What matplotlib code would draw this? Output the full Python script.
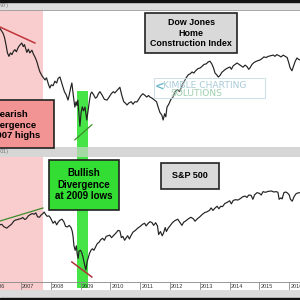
import matplotlib
matplotlib.use('Agg')
import matplotlib.pyplot as plt
from matplotlib.patches import Rectangle

# Dow Jones Home Construction Index (approx. levels)
hb_t = [2006.30, 2006.35, 2006.40, 2006.45, 2006.50, 2006.55, 2006.60, 2006.65, 2006.70, 2006.75,
        2006.80, 2006.85, 2006.90, 2006.95, 2007.03, 2007.08, 2007.12, 2007.17, 2007.20, 2007.25,
        2007.30, 2007.37, 2007.42, 2007.48, 2007.54, 2007.58, 2007.64, 2007.70, 2007.76, 2007.81,
        2007.86, 2007.92, 2007.97, 2008.02, 2008.08, 2008.14, 2008.20, 2008.25, 2008.31, 2008.36,
        2008.41, 2008.46, 2008.52, 2008.58, 2008.63, 2008.67, 2008.71, 2008.76, 2008.81, 2008.85,
        2008.88, 2008.91, 2008.95, 2008.98, 2009.02, 2009.06, 2009.10, 2009.15, 2009.18, 2009.21,
        2009.26, 2009.30, 2009.34, 2009.38, 2009.44, 2009.50, 2009.55, 2009.60, 2009.65, 2009.72,
        2009.80, 2009.89, 2009.96, 2010.03, 2010.10, 2010.15, 2010.22, 2010.28, 2010.32, 2010.38,
        2010.45, 2010.50, 2010.56, 2010.62, 2010.70, 2010.76, 2010.82, 2010.89, 2010.95, 2011.02,
        2011.09, 2011.15, 2011.22, 2011.28, 2011.33, 2011.40, 2011.48, 2011.55, 2011.60, 2011.66,
        2011.73, 2011.77, 2011.82, 2011.86, 2011.90, 2011.96, 2012.03, 2012.10, 2012.17, 2012.25,
        2012.32, 2012.38, 2012.44, 2012.50, 2012.56, 2012.62, 2012.68, 2012.74, 2012.80, 2012.86,
        2012.94, 2013.01, 2013.07, 2013.14, 2013.22, 2013.28, 2013.34, 2013.40, 2013.46, 2013.51,
        2013.56, 2013.62, 2013.68, 2013.74, 2013.80, 2013.86, 2013.94, 2014.01, 2014.06, 2014.12,
        2014.18, 2014.25, 2014.32, 2014.38, 2014.45, 2014.52, 2014.58, 2014.64, 2014.68, 2014.75,
        2014.82, 2014.90, 2014.96, 2015.02, 2015.08, 2015.15, 2015.22, 2015.30, 2015.38, 2015.46,
        2015.52, 2015.58, 2015.66, 2015.72, 2015.80, 2015.86, 2015.93, 2015.98, 2016.03, 2016.09,
        2016.14, 2016.20, 2016.26, 2016.31, 2016.36]
hb_v = [830, 800, 770, 720, 640, 560, 530, 560, 545, 575,
        590, 570, 605, 630, 657, 620, 640, 590, 565, 595,
        560, 585, 550, 520, 484, 450, 412, 390, 375, 362,
        375, 340, 318, 335, 330, 355, 345, 372, 380, 350,
        324, 300, 285, 262, 290, 320, 345, 280, 234, 255,
        240, 262, 205, 172, 215, 235, 220, 234, 210, 190,
        225, 260, 290, 298, 285, 270, 275, 290, 300, 285,
        265, 262, 275, 290, 300, 294, 305, 315, 322, 285,
        255, 250, 242, 250, 255, 245, 255, 254, 265, 280,
        290, 284, 275, 282, 275, 270, 262, 255, 235, 215,
        205, 190, 210, 200, 234, 245, 265, 275, 300, 310,
        300, 320, 345, 360, 380, 395, 400, 412, 405, 420,
        435, 439, 450, 465, 470, 484, 490, 470, 440, 405,
        395, 380, 390, 410, 420, 430, 440, 446, 430, 455,
        465, 476, 465, 455, 445, 460, 450, 430, 439, 465,
        480, 490, 495, 500, 510, 525, 520, 530, 535, 541,
        530, 545, 535, 525, 540, 530, 520, 480, 440, 420,
        450, 490, 516, 505, 500]

# S&P 500
sp_t = [2006.30, 2006.36, 2006.42, 2006.48, 2006.53, 2006.58, 2006.64, 2006.70, 2006.76, 2006.82,
        2006.88, 2006.94, 2007.00, 2007.06, 2007.13, 2007.18, 2007.25, 2007.32, 2007.38, 2007.44,
        2007.50, 2007.56, 2007.62, 2007.68, 2007.74, 2007.78, 2007.83, 2007.88, 2007.94, 2007.99,
        2008.04, 2008.08, 2008.14, 2008.20, 2008.25, 2008.31, 2008.38, 2008.44, 2008.50, 2008.56,
        2008.62, 2008.68, 2008.72, 2008.75, 2008.78, 2008.82, 2008.86, 2008.89, 2008.92, 2008.95,
        2009.00, 2009.04, 2009.08, 2009.13, 2009.18, 2009.22, 2009.26, 2009.30, 2009.35, 2009.40,
        2009.45, 2009.50, 2009.56, 2009.62, 2009.68, 2009.74, 2009.80, 2009.86, 2009.92, 2009.98,
        2010.04, 2010.10, 2010.18, 2010.26, 2010.32, 2010.37, 2010.42, 2010.48, 2010.52, 2010.58,
        2010.64, 2010.70, 2010.76, 2010.84, 2010.92, 2011.00, 2011.08, 2011.15, 2011.20, 2011.27,
        2011.33, 2011.40, 2011.45, 2011.52, 2011.58, 2011.62, 2011.68, 2011.74, 2011.78, 2011.84,
        2011.88, 2011.94, 2012.00, 2012.08, 2012.16, 2012.26, 2012.34, 2012.40, 2012.46, 2012.54,
        2012.62, 2012.70, 2012.78, 2012.84, 2012.92, 2013.00, 2013.08, 2013.16, 2013.24, 2013.32,
        2013.38, 2013.44, 2013.50, 2013.58, 2013.64, 2013.70, 2013.76, 2013.84, 2013.92, 2014.00,
        2014.06, 2014.12, 2014.20, 2014.28, 2014.36, 2014.44, 2014.52, 2014.58, 2014.64, 2014.72,
        2014.78, 2014.84, 2014.92, 2015.00, 2015.06, 2015.12, 2015.20, 2015.30, 2015.40, 2015.48,
        2015.56, 2015.62, 2015.66, 2015.72, 2015.76, 2015.82, 2015.88, 2015.94, 2016.00, 2016.04,
        2016.10, 2016.16, 2016.22, 2016.28, 2016.36]
sp_v = [1300, 1310, 1270, 1250, 1240, 1265, 1290, 1320, 1370, 1395,
        1400, 1415, 1420, 1445, 1405, 1420, 1480, 1510, 1530, 1515,
        1545, 1460, 1450, 1500, 1530, 1565, 1510, 1470, 1480, 1440,
        1380, 1330, 1370, 1300, 1350, 1390, 1410, 1360, 1270, 1260,
        1290, 1250, 1190, 1100, 960, 900, 960, 850, 800, 890,
        900, 870, 820, 740, 677, 760, 810, 860, 900, 920,
        900, 940, 990, 1010, 1050, 1070, 1040, 1100, 1110, 1120,
        1080, 1110, 1150, 1200, 1190, 1080, 1100, 1040, 1070, 1110,
        1060, 1120, 1170, 1200, 1240, 1270, 1310, 1330, 1280, 1330,
        1360, 1340, 1290, 1340, 1280, 1130, 1180, 1110, 1150, 1250,
        1180, 1240, 1280, 1340, 1380, 1410, 1340, 1290, 1350, 1380,
        1420, 1450, 1420, 1370, 1420, 1460, 1510, 1550, 1570, 1600,
        1660, 1600, 1650, 1700, 1640, 1700, 1690, 1770, 1800, 1840,
        1760, 1850, 1870, 1860, 1900, 1950, 1970, 1930, 2000, 1990,
        1880, 2010, 2070, 2050, 2000, 2100, 2080, 2110, 2120, 2090,
        2100, 2080, 1880, 1920, 1890, 2070, 2090, 2060, 2000, 1880,
        1830, 1950, 2030, 2060, 2070]

# divergence trendlines
hb_red_t = [2006.30, 2007.47]
hb_red_v = [850, 657]
hb_green_t = [2008.81, 2009.38]
hb_green_v = [138, 176]
sp_green_t = [2006.30, 2007.74]
sp_green_v = [1374, 1658]
sp_red_t = [2008.71, 2009.38]
sp_red_v = [760, 612]

years = list(range(2006, 2017))
bear_span = (2006.30, 2007.74)
bull_span = (2008.88, 2009.25)
x_range = (2006.30, 2016.36)

W = 300.0
def fx(px):
    return px / W
def fy(py):
    return 1 - py / W

fig = plt.figure(figsize=(3, 3), dpi=100, facecolor='#dcdcdc')
fig.patches.append(Rectangle((0, fy(1.5)), 1, 1.5 / W, transform=fig.transFigure, color='#111', zorder=0))
fig.patches.append(Rectangle((0, 0), 1, 2 / W, transform=fig.transFigure, color='#111', zorder=0))

pink = '#f9cdcd'
green = '#46e446'

ax1 = fig.add_axes([0, fy(147), 1, 137 / W])
band = fig.add_axes([0, fy(157), 1, 10 / W], sharex=ax1)
ax2 = fig.add_axes([0, fy(282), 1, 125 / W], sharex=ax1)
dax = fig.add_axes([0, fy(290), 1, 8 / W], sharex=ax1)

for a in (ax1, band, ax2, dax):
    a.set_xlim(*x_range)
    for s in a.spines.values():
        s.set_visible(False)

ax1.set_yscale('log')
ax1.set_ylim(123, 1118)
ax1.axvspan(*bear_span, color=pink, lw=0)
ax1.axvspan(*bull_span, ymin=0, ymax=0.41, color=green, lw=0)
ax1.plot(hb_t, hb_v, color='#222', lw=0.85)
ax1.plot(hb_red_t, hb_red_v, color='#c0343a', lw=1.1)
ax1.plot(hb_green_t, hb_green_v, color='#3c8c2c', lw=0.9)
ax1.spines['top'].set_visible(True)
ax1.spines['top'].set_color('#999')
ax1.spines['top'].set_linewidth(0.6)

band.set_facecolor('#d6d6d6')
band.axvspan(*bull_span, color=green, alpha=0.35, lw=0)
band.set_ylim(0, 1)

ax2.set_yscale('log')
ax2.set_ylim(569, 3465)
ax2.axvspan(*bear_span, color=pink, lw=0)
ax2.axvspan(*bull_span, color=green, lw=0)
ax2.plot(sp_t, sp_v, color='#222', lw=0.85)
ax2.plot(sp_green_t, sp_green_v, color='#3c8c2c', lw=0.9)
ax2.plot(sp_red_t, sp_red_v, color='#b0303a', lw=1.1)

dax.set_ylim(0, 1)
dax.set_facecolor('white')
dax.axvspan(*bear_span, color=pink, lw=0)
dax.axvspan(*bull_span, ymin=0.25, color=green, lw=0)
for y in years:
    dax.axvline(y, color='#888', lw=0.6)
    dax.text(y + 0.04, 0.45, str(y), fontsize=4, color='#333', va='center', ha='left',
             family='Liberation Sans')
dax.axhline(0.02, color='#888', lw=0.6)
dax.axhline(0.98, color='#888', lw=0.6)

for a in (ax1, band, ax2, dax):
    a.minorticks_off()
    a.tick_params(which='both', left=False, bottom=False, labelleft=False, labelbottom=False)

# small header texts
fig.text(fx(0), fy(5.5), '97)', fontsize=4, color='#777', va='center', ha='left')
fig.text(fx(0), fy(152), '01)', fontsize=4, color='#777', va='center', ha='left')

def box(x0, y0, x1, y1, face, edge='#222', lw=1.2, z=5):
    fig.patches.append(Rectangle((fx(x0), fy(y1)), (x1 - x0) / W, (y1 - y0) / W,
                                 transform=fig.transFigure, facecolor=face, edgecolor=edge,
                                 lw=lw, zorder=z))

font = 'Liberation Sans'
box(145, 13, 237, 53, '#d9d9d9')
fig.text(fx(191), fy(33), 'Dow Jones\nHome\nConstruction Index', fontsize=6.4, fontweight='bold',
         family=font, ha='center', va='center', linespacing=1.15, zorder=6)

box(161, 163, 219, 189, '#d9d9d9')
fig.text(fx(190), fy(176), 'S&P 500', fontsize=6.5, fontweight='bold', family=font,
         ha='center', va='center', zorder=6)

box(-45, 100, 54, 148, '#f39494')
fig.text(fx(10.5), fy(125), 'Bearish\nDivergence\nat 2007 highs', fontsize=6.8, fontweight='bold',
         family=font, ha='center', va='center', linespacing=1.2, zorder=6)

box(49, 160, 119, 210, '#33dd33')
fig.text(fx(84), fy(184.5), 'Bullish\nDivergence\nat 2009 lows', fontsize=7, fontweight='bold',
         family=font, ha='center', va='center', linespacing=1.2, zorder=6)

# watermark
box(154, 78, 265, 98, (1, 1, 1, 0.25), edge='#c4dbe4', lw=0.6)
fig.text(fx(154.5), fy(86.5), '<', fontsize=8.5, color='#6fb8c8', fontweight='bold', ha='left',
         va='center', zorder=6)
fig.text(fx(163), fy(85.5), 'KIMBLE CHARTING', fontsize=6.6, color='#a9cbd8', ha='left',
         va='center', zorder=6)
fig.text(fx(170), fy(94), 'SOLUTIONS', fontsize=6.6, color='#9ccfae', ha='left',
         va='center', zorder=6)

fig.savefig('out.png', dpi=100, facecolor=fig.get_facecolor())
